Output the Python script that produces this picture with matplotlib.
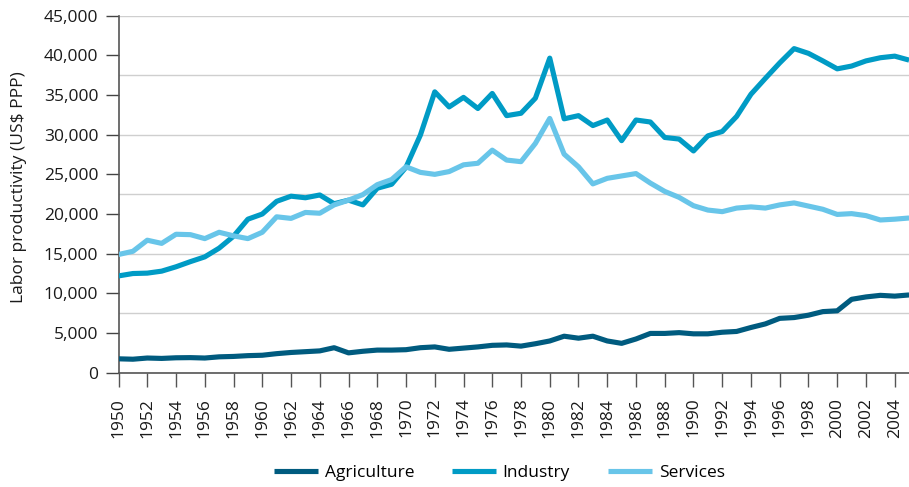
import matplotlib
matplotlib.use("Agg")
from matplotlib import pyplot as plt
from matplotlib.ticker import MultipleLocator, FuncFormatter

plt.rcParams["font.family"] = ["Open Sans", "DejaVu Sans"]

years = list(range(1950, 2006))

# Labor productivity by sector, US$ PPP
agriculture = [1750, 1700, 1850, 1800, 1880, 1900, 1850, 2000, 2050, 2150,
               2200, 2400, 2550, 2650, 2750, 3150, 2500, 2700, 2850, 2850,
               2900, 3150, 3250, 2950, 3100, 3250, 3450, 3500, 3350, 3650,
               4000, 4600, 4350, 4600, 4000, 3700, 4250, 4950, 4950, 5050,
               4900, 4900, 5100, 5200, 5700, 6150, 6850, 6950, 7250, 7700,
               7800, 9250, 9550, 9750, 9650, 9800]
industry = [12200, 12500, 12550, 12800, 13350, 14000, 14600, 15700, 17200, 19350,
            20000, 21600, 22250, 22050, 22400, 21300, 21750, 21150, 23250, 23750,
            25900, 29950, 35400, 33500, 34700, 33300, 35200, 32400, 32700, 34600,
            39650, 32000, 32400, 31150, 31850, 29250, 31850, 31600, 29650, 29450,
            27950, 29850, 30400, 32300, 35100, 37100, 39050, 40850, 40250, 39300,
            38300, 38650, 39300, 39700, 39900, 39400]
services = [14900, 15300, 16700, 16300, 17450, 17400, 16900, 17700, 17250, 16900,
            17700, 19650, 19450, 20200, 20100, 21150, 21750, 22450, 23700, 24350,
            25950, 25250, 25000, 25350, 26200, 26400, 28050, 26800, 26600, 28900,
            32050, 27550, 25950, 23800, 24500, 24800, 25100, 23900, 22850, 22100,
            21050, 20500, 20300, 20750, 20900, 20750, 21150, 21400, 21000, 20600,
            19950, 20050, 19800, 19250, 19350, 19500]

series = [("Agriculture", agriculture, "#005b7f"),
          ("Industry", industry, "#009bc5"),
          ("Services", services, "#68c5e9")]

fig = plt.figure(figsize=(9.09, 4.87), dpi=100)
ax = fig.add_axes([0.1304, 0.2347, 0.8697, 0.7331])

for name, values, color in series:
    ax.plot(years, values, color=color, linewidth=3.7, label=name,
            solid_joinstyle="round", solid_capstyle="butt", zorder=3)

ax.set_xlim(1950, 2005)
ax.set_ylim(0, 45000)

# y ticks every 5,000, light grid lines every 7,500
ax.yaxis.set_major_locator(MultipleLocator(5000))
ax.yaxis.set_minor_locator(MultipleLocator(7500))
ax.yaxis.remove_overlapping_locs = False
ax.yaxis.set_major_formatter(FuncFormatter(lambda v, p: f"{int(v):,}"))
ax.grid(which="minor", axis="y", color="#cfcfcf", linewidth=1.0, zorder=0)
ax.grid(which="major", visible=False)

ax.set_xticks(years[::2])
ax.set_xticklabels([str(y) for y in years[::2]], rotation=90)

ax.tick_params(axis="y", which="major", length=9.5, width=1.0, color="#444444",
               pad=5, labelsize=12.5, labelcolor="#1a1a1a")
ax.tick_params(axis="y", which="minor", length=0)
ax.tick_params(axis="x", length=10, width=1.0, color="#555555",
               pad=8, labelsize=12.5, labelcolor="#1a1a1a")

for side in ["top", "right"]:
    ax.spines[side].set_visible(False)
for side in ["left", "bottom"]:
    ax.spines[side].set_color("#555555")
    ax.spines[side].set_linewidth(1.2)

ax.set_ylabel("Labor productivity (US$ PPP)", fontsize=12.5, color="#1a1a1a")
ax.yaxis.set_label_coords(-0.1156, 0.52)

fig.legend(loc="center", bbox_to_anchor=(0.5495, 0.029), ncol=3, frameon=False,
           fontsize=12.5, handlelength=2.5, handletextpad=0.4, columnspacing=2.2)

fig.savefig("out.png", dpi=100)
